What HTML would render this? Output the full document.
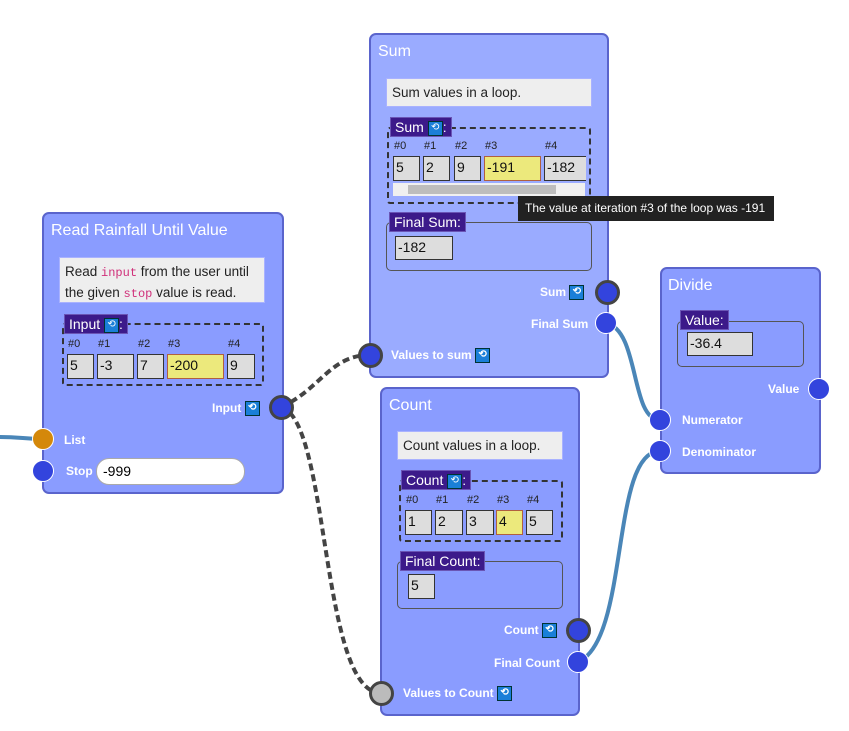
<!DOCTYPE html>
<html><head><meta charset="utf-8"><style>
body{margin:0;width:849px;height:731px;background:#fff;position:relative;overflow:hidden;font-family:"Liberation Sans",sans-serif;}
.a{position:absolute;box-sizing:border-box;}
.node{background:#8a9cff;border:2px solid #5a64cc;border-radius:7px;}
.ttl{color:#fff;font-size:16px;}
.desc{background:#eeeeee;border:1px solid #a9b2ff;font-size:13.5px;color:#222;padding:4px 5px;line-height:19px;}
.dash{border:2px dashed #333;border-radius:3px;}
.lab{background:#3c1a8a;color:#fff;font-size:14px;line-height:18px;padding:0 4px;border:1px solid #6a55b5;}
.ico{display:inline-block;width:13px;height:13px;background:#1a7fd8;border:1px solid #033;color:#fff;font-size:10px;line-height:12px;text-align:center;vertical-align:middle;}
.idx{font-size:11px;color:#222;}
.cell{background:#dddddd;border:1.5px solid #333;font-size:14px;line-height:20px;padding-left:2px;color:#111;}
.y{background:#ece97c;border-color:#b06040;}
.box{border:1.5px solid #555;border-radius:5px;}
.pl{color:#fff;font-size:12px;font-weight:bold;}
.port{border-radius:50%;background:#3344dd;border:1.5px solid #fff;}
.pc{border:3px solid #444;}
.code{font-family:"Liberation Mono",monospace;color:#d0307a;font-size:12px;}
</style></head><body>
<svg class="a" style="left:0;top:0" width="849" height="731">
<path d="M0,437 C20,437 25,439 43,439" stroke="#4a86b8" stroke-width="4" fill="none"/>
<path d="M606,323 C640,330 630,420 660,420" stroke="#4a86b8" stroke-width="4" fill="none"/>
<path d="M578,662 C630,640 610,451 660,451" stroke="#4a86b8" stroke-width="4" fill="none"/>
<path d="M281,407 C320,390 330,355 370,355" stroke="#444" stroke-width="4" stroke-dasharray="7,4" fill="none"/>
<path d="M281,407 C330,420 320,693 381,693" stroke="#444" stroke-width="4" stroke-dasharray="7,4" fill="none"/>
</svg>

<!-- Read node -->
<div class="a node" style="left:42px;top:212px;width:242px;height:282px"></div>
<div class="a ttl" style="left:51px;top:222px">Read Rainfall Until Value</div>
<div class="a desc" style="left:59px;top:257px;width:206px;height:46px">Read <span class="code">input</span> from the user until the given <span class="code">stop</span> value is read.</div>
<div class="a dash" style="left:62px;top:323px;width:202px;height:63px"></div>
<div class="a lab" style="left:64px;top:314px">Input <span class="ico">⟲</span>:</div>
<div class="a idx" style="left:68px;top:338px">#0</div><div class="a idx" style="left:98px;top:338px">#1</div><div class="a idx" style="left:138px;top:338px">#2</div><div class="a idx" style="left:168px;top:338px">#3</div><div class="a idx" style="left:228px;top:338px">#4</div>
<div class="a cell" style="left:67px;top:354px;width:27px;height:25px">5</div>
<div class="a cell" style="left:97px;top:354px;width:37px;height:25px">-3</div>
<div class="a cell" style="left:137px;top:354px;width:27px;height:25px">7</div>
<div class="a cell y" style="left:167px;top:354px;width:57px;height:25px">-200</div>
<div class="a cell" style="left:227px;top:354px;width:28px;height:25px">9</div>
<div class="a pl" style="left:212px;top:401px">Input <span class="ico">⟲</span></div>
<div class="a port pc" style="left:269px;top:395px;width:25px;height:25px"></div>
<div class="a port" style="left:32px;top:428px;width:22px;height:22px;background:#d4880a"></div>
<div class="a pl" style="left:64px;top:433px">List</div>
<div class="a port" style="left:32px;top:460px;width:22px;height:22px"></div>
<div class="a pl" style="left:66px;top:464px">Stop</div>
<div class="a" style="left:96px;top:458px;width:149px;height:27px;background:#fff;border:1px solid #aaa;border-radius:13px;font-size:14px;line-height:25px;padding-left:6px">-999</div>

<!-- Sum node -->
<div class="a node" style="left:369px;top:33px;width:240px;height:345px;background:#9aabff"></div>
<div class="a ttl" style="left:378px;top:43px">Sum</div>
<div class="a desc" style="left:386px;top:78px;width:206px;height:29px">Sum values in a loop.</div>
<div class="a dash" style="left:387px;top:127px;width:204px;height:77px"></div>
<div class="a lab" style="left:390px;top:117px">Sum <span class="ico">⟲</span>:</div>
<div class="a idx" style="left:394px;top:140px">#0</div><div class="a idx" style="left:424px;top:140px">#1</div><div class="a idx" style="left:455px;top:140px">#2</div><div class="a idx" style="left:485px;top:140px">#3</div><div class="a idx" style="left:545px;top:140px">#4</div>
<div class="a cell" style="left:393px;top:156px;width:27px;height:25px">5</div>
<div class="a cell" style="left:423px;top:156px;width:27px;height:25px">2</div>
<div class="a cell" style="left:454px;top:156px;width:27px;height:25px">9</div>
<div class="a cell y" style="left:484px;top:156px;width:57px;height:25px">-191</div>
<div class="a cell" style="left:544px;top:156px;width:42px;height:25px;border-right:none">-182</div>
<div class="a" style="left:393px;top:183px;width:192px;height:13px;background:#f0f0f0"></div>
<div class="a" style="left:408px;top:185px;width:148px;height:9px;background:#bdbdbd"></div>
<div class="a" style="left:518px;top:196px;width:256px;height:25px;background:#222;color:#fff;font-size:12px;line-height:25px;padding-left:7px">The value at iteration #3 of the loop was -191</div>
<div class="a box" style="left:386px;top:222px;width:206px;height:49px"></div>
<div class="a lab" style="left:389px;top:212px">Final Sum:</div>
<div class="a cell" style="left:395px;top:236px;width:58px;height:24px">-182</div>
<div class="a pl" style="left:540px;top:285px">Sum <span class="ico">⟲</span></div>
<div class="a port pc" style="left:595px;top:280px;width:25px;height:25px"></div>
<div class="a pl" style="left:531px;top:317px">Final Sum</div>
<div class="a port" style="left:595px;top:312px;width:22px;height:22px"></div>
<div class="a port pc" style="left:358px;top:343px;width:25px;height:25px"></div>
<div class="a pl" style="left:391px;top:348px">Values to sum <span class="ico">⟲</span></div>

<!-- Divide -->
<div class="a node" style="left:660px;top:267px;width:161px;height:207px"></div>
<div class="a ttl" style="left:668px;top:277px">Divide</div>
<div class="a box" style="left:677px;top:321px;width:127px;height:46px"></div>
<div class="a lab" style="left:680px;top:310px">Value:</div>
<div class="a cell" style="left:687px;top:332px;width:66px;height:24px">-36.4</div>
<div class="a pl" style="left:768px;top:382px">Value</div>
<div class="a port" style="left:808px;top:378px;width:22px;height:22px"></div>
<div class="a port" style="left:649px;top:409px;width:22px;height:22px"></div>
<div class="a pl" style="left:682px;top:413px">Numerator</div>
<div class="a port" style="left:649px;top:440px;width:22px;height:22px"></div>
<div class="a pl" style="left:682px;top:445px">Denominator</div>

<!-- Count -->
<div class="a node" style="left:380px;top:387px;width:200px;height:329px"></div>
<div class="a ttl" style="left:389px;top:397px">Count</div>
<div class="a desc" style="left:397px;top:431px;width:166px;height:29px">Count values in a loop.</div>
<div class="a dash" style="left:399px;top:480px;width:164px;height:62px"></div>
<div class="a lab" style="left:401px;top:470px">Count <span class="ico">⟲</span>:</div>
<div class="a idx" style="left:406px;top:494px">#0</div><div class="a idx" style="left:436px;top:494px">#1</div><div class="a idx" style="left:467px;top:494px">#2</div><div class="a idx" style="left:497px;top:494px">#3</div><div class="a idx" style="left:527px;top:494px">#4</div>
<div class="a cell" style="left:405px;top:510px;width:27px;height:25px">1</div>
<div class="a cell" style="left:435px;top:510px;width:28px;height:25px">2</div>
<div class="a cell" style="left:466px;top:510px;width:28px;height:25px">3</div>
<div class="a cell y" style="left:496px;top:510px;width:27px;height:25px">4</div>
<div class="a cell" style="left:526px;top:510px;width:27px;height:25px">5</div>
<div class="a box" style="left:397px;top:561px;width:166px;height:48px"></div>
<div class="a lab" style="left:400px;top:551px">Final Count:</div>
<div class="a cell" style="left:408px;top:574px;width:27px;height:25px">5</div>
<div class="a pl" style="left:504px;top:623px">Count <span class="ico">⟲</span></div>
<div class="a port pc" style="left:566px;top:618px;width:25px;height:25px"></div>
<div class="a pl" style="left:494px;top:656px">Final Count</div>
<div class="a port" style="left:567px;top:651px;width:22px;height:22px"></div>
<div class="a port pc" style="left:369px;top:681px;width:25px;height:25px;background:#bbb"></div>
<div class="a pl" style="left:403px;top:686px">Values to Count <span class="ico">⟲</span></div>
</body></html>
